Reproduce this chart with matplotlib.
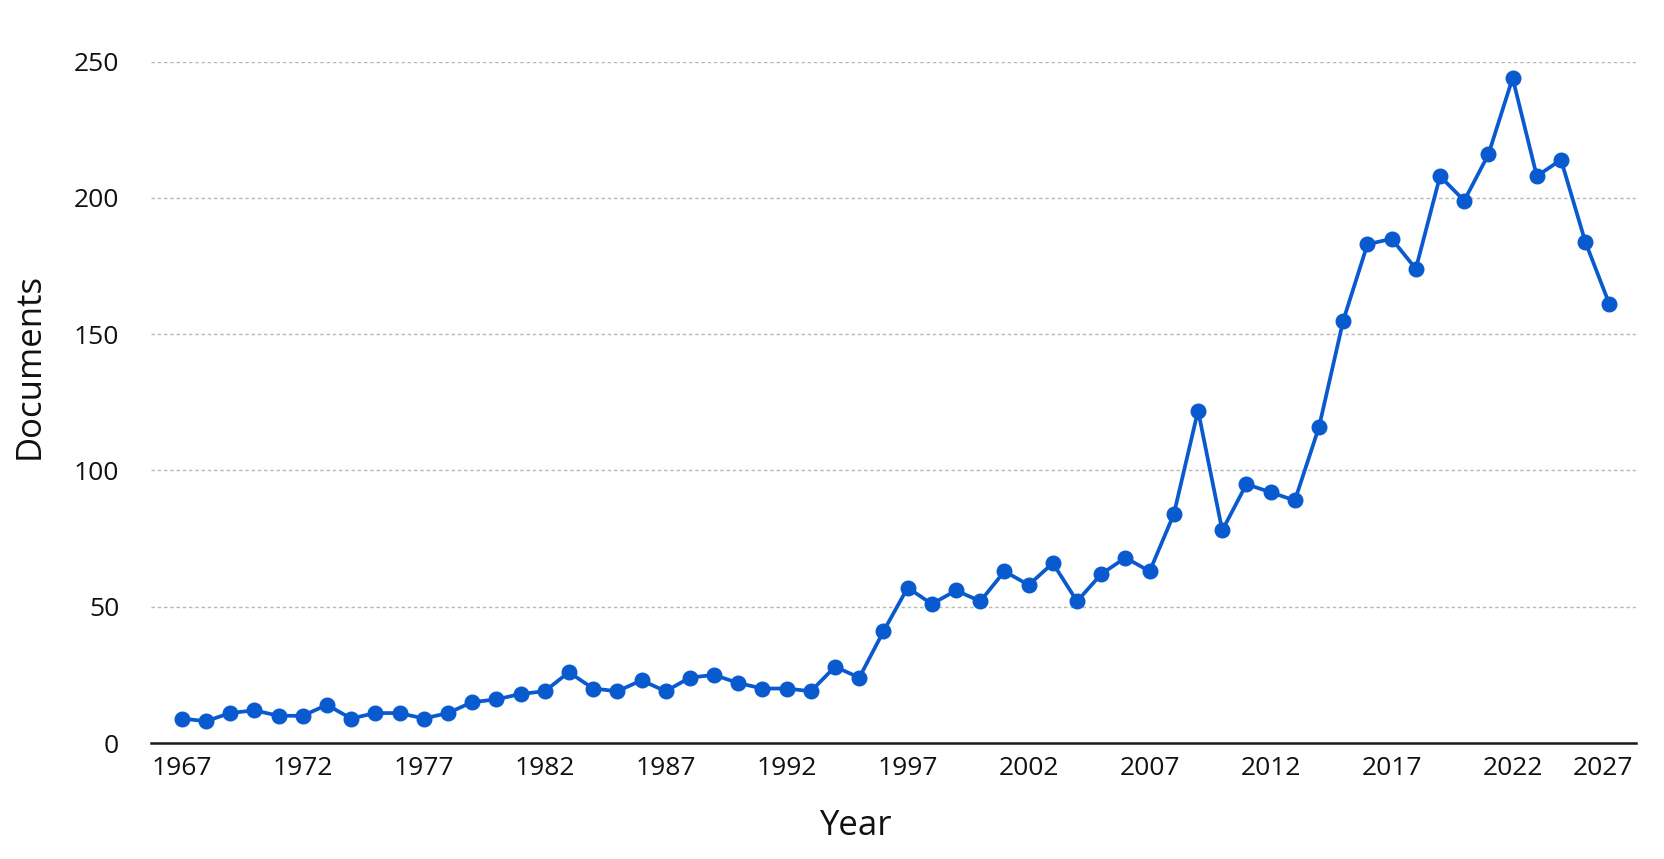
import matplotlib.pyplot as plt

# documents per year
years = list(range(1967, 2027))
documents = [
    9, 8, 11, 12, 10, 10, 14, 9, 11, 11,
    9, 11, 15, 16, 18, 19, 26, 20, 19, 23,
    19, 24, 25, 22, 20, 20, 19, 28, 24, 41,
    57, 51, 56, 52, 63, 58, 66, 52, 62, 68,
    63, 84, 122, 78, 95, 92, 89, 116, 155, 183,
    185, 174, 208, 199, 216, 244, 208, 214, 184, 161,
]
x_ticks = list(range(1967, 2028, 5))
y_ticks = [0, 50, 100, 150, 200, 250]

plt.rcParams['font.family'] = ['Open Sans', 'DejaVu Sans']

fig = plt.figure(figsize=(16.65, 8.59), dpi=100)
ax = fig.add_axes([0.0907, 0.135, 0.8919, 0.7932])

ax.plot(years, documents, color='#0a5acf', linewidth=2.7,
        marker='o', markersize=10.5, zorder=3)

ax.set_xlim(1965.73, 2027.1)
ax.set_ylim(0, 250)
ax.set_xticks(x_ticks)
ax.set_yticks(y_ticks)

ax.grid(axis='y', color='#b8b8b8', linestyle=(0, (2.5, 2)), linewidth=1)
ax.set_axisbelow(True)

for side in ['top', 'right', 'left']:
    ax.spines[side].set_visible(False)
ax.spines['bottom'].set_color('#1a1a1a')
ax.spines['bottom'].set_linewidth(1.8)

ax.tick_params(axis='both', length=0, labelsize=19, colors='#111111')
ax.tick_params(axis='y', pad=23)
ax.tick_params(axis='x', pad=9)

# last year label is kept inside the chart, like the original
ax.get_xticklabels()[-1].set_ha('right')

ax.set_xlabel('Year', fontsize=25, va='center', color='#111111')
ax.xaxis.set_label_coords(0.474, -0.1218)
ax.set_ylabel('Documents', fontsize=25, va='center', color='#111111')
ax.yaxis.set_label_coords(-0.0815, 0.553)

fig.savefig('out.png', dpi=100, facecolor='white')
